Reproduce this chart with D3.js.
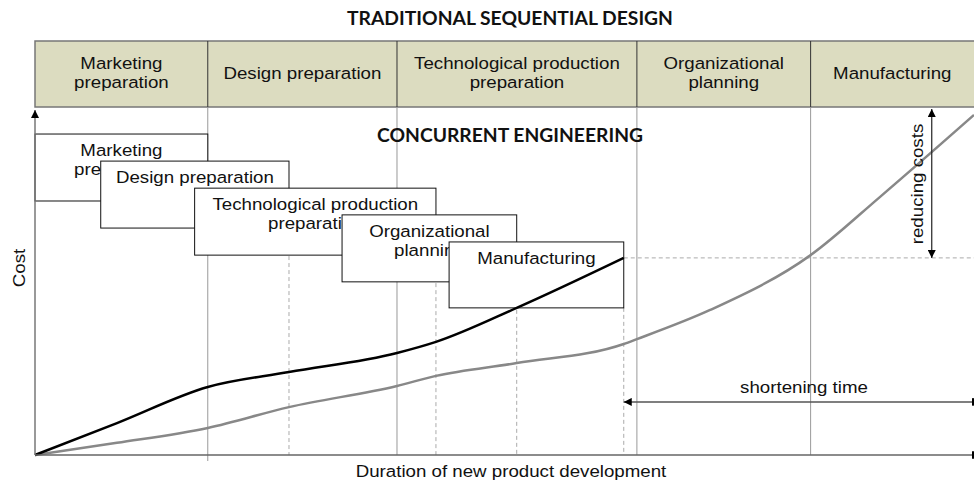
<!DOCTYPE html>
<html>
<head>
<meta charset="utf-8">
<script src="https://cdn.jsdelivr.net/npm/d3@7"></script>
<style>
  body { margin: 0; background: #fff; }
  svg { display: block; }
  .lbl { font-family: "Liberation Sans", Arial, sans-serif; font-size: 17px; fill: #111; }
  .ttl { font-family: Lato, "Open Sans", sans-serif; font-weight: bold; font-size: 18px; fill: #111; }
</style>
</head>
<body>
<svg id="chart" width="974" height="482"></svg>
<script>
// stages (same for both ways of working)
const stages = ["Marketing\npreparation", "Design preparation", "Technological production\npreparation", "Organizational\nplanning", "Manufacturing"];

// traditional sequential design: stage borders on the time axis (0..100)
const seqBounds = [0, 18.4, 38.55, 64.1, 82.6, 100];

// concurrent engineering boxes: start, end (time) and top, bottom (cost)
const ceStart = [0, 7.0, 17.0, 32.7, 44.1];
const ceEnd = [18.4, 27.05, 42.7, 51.3, 62.7];
const ceTop = [92.5, 84.7, 76.9, 69.2, 61.4];
const ceBottom = [73.2, 65.4, 57.6, 49.9, 42.4];

// cost curves
const ceTimes = [0, 8.73, 18.4, 27.05, 38.55, 42.7, 51.3, 62.7];
const ceCost = [0, 9.2, 19.6, 23.9, 29.4, 32.6, 42.4, 56.8];
const seqTimes = [0, 8.73, 18.4, 27.05, 38.55, 42.7, 51.3, 62.7, 64.1, 71.9, 82.6, 90.0, 100];
const seqCost = [0, 3.5, 7.8, 13.8, 19.9, 22.8, 26.5, 32.0, 33.4, 41.8, 57.6, 74.4, 98.0];

// shortening time arrow level (cost units)
const shortLevel = 15.3;
const reduceAt = 95.5;

const svg = d3.select("#chart");
const x = d3.scaleLinear().domain([0, 100]).range([35, 974]);
const y = d3.scaleLinear().domain([0, 100]).range([455, 108]);

const defs = svg.append("defs");
defs.append("marker").attr("id", "arr")
  .attr("viewBox", "0 0 10 10").attr("refX", 10).attr("refY", 5)
  .attr("markerWidth", 11).attr("markerHeight", 8).attr("markerUnits", "userSpaceOnUse")
  .attr("orient", "auto-start-reverse")
  .append("path").attr("d", "M0,0 L10,5 L0,10 Z").attr("fill", "#000");
defs.append("marker").attr("id", "bar")
  .attr("viewBox", "0 0 4 10").attr("refX", 2).attr("refY", 5)
  .attr("markerWidth", 3).attr("markerHeight", 9).attr("markerUnits", "userSpaceOnUse")
  .attr("orient", "auto")
  .append("rect").attr("width", 4).attr("height", 10).attr("fill", "#000");

function label(g, tx, ty, text, cls, sx) {
  const t = g.append("text").attr("class", cls || "lbl")
    .attr("text-anchor", "middle")
    .attr("transform", `translate(${tx},${ty}) scale(${sx || 1.1},1)`);
  text.split("\n").forEach((s, i) => {
    t.append("tspan").attr("x", 0).attr("dy", i === 0 ? 0 : 19).text(s);
  });
  return t;
}

// title
svg.append("text").attr("class", "ttl").attr("x", 347).attr("y", 25)
  .attr("textLength", 326).attr("lengthAdjust", "spacingAndGlyphs")
  .text("TRADITIONAL SEQUENTIAL DESIGN");

// header band
const hTop = 41, hBot = 107;
svg.append("rect").attr("x", x(0)).attr("y", hTop).attr("width", 960).attr("height", hBot - hTop)
  .attr("fill", "#dcdcc0").attr("stroke", "#777").attr("stroke-width", 1.5);
svg.selectAll(".hdiv").data(seqBounds.slice(1, 5)).enter().append("line")
  .attr("x1", d => x(d)).attr("x2", d => x(d)).attr("y1", hTop).attr("y2", hBot)
  .attr("stroke", "#333").attr("stroke-width", 1);
stages.forEach((s, i) => {
  const cx = (x(seqBounds[i]) + x(seqBounds[i + 1])) / 2;
  const two = s.indexOf("\n") >= 0;
  label(svg, cx, two ? 69 : 79, s);
});

// solid stage lines under the header
svg.selectAll(".sdiv").data(seqBounds.slice(1, 5)).enter().append("line")
  .attr("x1", d => x(d)).attr("x2", d => x(d)).attr("y1", hBot)
  .attr("y2", (d, i) => i === 0 ? y(0) + 6 : y(0))
  .attr("stroke", "#999").attr("stroke-width", 1);

// dashed lines from concurrent box ends
svg.selectAll(".ddiv").data(d3.range(1, 5)).enter().append("line")
  .attr("x1", i => x(ceEnd[i])).attr("x2", i => x(ceEnd[i]))
  .attr("y1", i => y(ceBottom[i])).attr("y2", y(0))
  .attr("stroke", "#aaa").attr("stroke-width", 1).attr("stroke-dasharray", "4,3");

// dashed level line for the concurrent end cost
svg.append("line").attr("x1", x(ceEnd[4])).attr("x2", x(100))
  .attr("y1", y(ceCost[ceCost.length - 1])).attr("y2", y(ceCost[ceCost.length - 1]))
  .attr("stroke", "#aaa").attr("stroke-width", 1).attr("stroke-dasharray", "4,3");

// sequential cost curve (gray)
const line = d3.line().curve(d3.curveMonotoneX).x(d => x(d[0])).y(d => y(d[1]));
svg.append("path").datum(d3.zip(seqTimes, seqCost)).attr("d", line)
  .attr("fill", "none").attr("stroke", "#888").attr("stroke-width", 2.5);

// concurrent boxes
stages.forEach((s, i) => {
  svg.append("rect")
    .attr("x", x(ceStart[i])).attr("y", y(ceTop[i]))
    .attr("width", x(ceEnd[i]) - x(ceStart[i])).attr("height", y(ceBottom[i]) - y(ceTop[i]))
    .attr("fill", "#fff").attr("stroke", "#111").attr("stroke-width", 1);
  label(svg, (x(ceStart[i]) + x(ceEnd[i])) / 2, y(ceTop[i]) + 22, s);
});

// concurrent cost curve (black)
svg.append("path").datum(d3.zip(ceTimes, ceCost)).attr("d", line)
  .attr("fill", "none").attr("stroke", "#000").attr("stroke-width", 2.5);

svg.append("text").attr("class", "ttl").attr("x", 377).attr("y", 142)
  .attr("textLength", 266).attr("lengthAdjust", "spacingAndGlyphs")
  .text("CONCURRENT ENGINEERING");

// axes
svg.append("line").attr("x1", x(0)).attr("x2", x(0)).attr("y1", y(0)).attr("y2", y(100) + 2)
  .attr("stroke", "#777").attr("stroke-width", 1.5).attr("marker-end", "url(#arr)");
svg.append("line").attr("x1", x(0)).attr("x2", x(100) - 1).attr("y1", y(0)).attr("y2", y(0))
  .attr("stroke", "#666").attr("stroke-width", 1.5).attr("marker-end", "url(#bar)");

label(svg, 511, 477, "Duration of new product development");
label(svg, 0, 0, "Cost").attr("transform", "translate(25,268) rotate(-90) scale(1.1,1)");

// shortening time
svg.append("line").attr("x1", x(ceEnd[4])).attr("x2", x(100) - 1)
  .attr("y1", y(shortLevel)).attr("y2", y(shortLevel))
  .attr("stroke", "#555").attr("stroke-width", 1.5)
  .attr("marker-start", "url(#arr)").attr("marker-end", "url(#bar)");
label(svg, 804, 393, "shortening time");

// reducing costs
svg.append("line").attr("x1", x(reduceAt)).attr("x2", x(reduceAt))
  .attr("y1", y(100) + 1).attr("y2", y(ceCost[ceCost.length - 1]))
  .attr("stroke", "#222").attr("stroke-width", 1.2)
  .attr("marker-start", "url(#arr)").attr("marker-end", "url(#arr)");
label(svg, 0, 0, "reducing costs").attr("transform", `translate(923,184) rotate(-90) scale(1.1,1)`);
</script>
</body>
</html>
